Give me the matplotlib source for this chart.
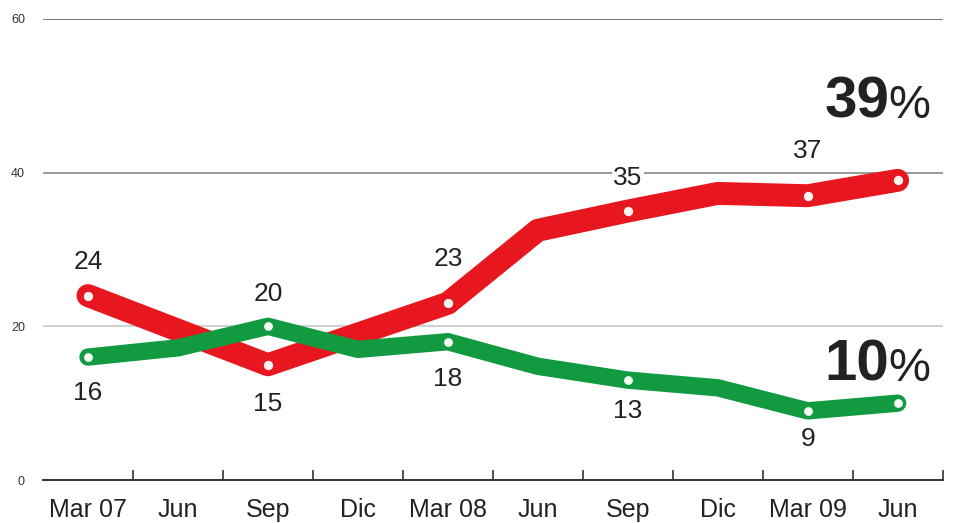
import matplotlib

matplotlib.use("Agg")

import matplotlib.pyplot as plt  # noqa: E402

# data
periods = ["Mar 07", "Jun", "Sep", "Dic", "Mar 08", "Jun", "Sep", "Dic", "Mar 09", "Jun"]
red_values = [24, 19.5, 15, 19, 23, 32.5, 35, 37.3, 37, 39]
green_values = [16, 17.2, 20, 17, 18, 14.8, 13, 12, 9, 10]
marked = [0, 2, 4, 6, 8, 9]
red_labels = {0: "24", 2: "15", 4: "23", 6: "35", 8: "37"}
green_labels = {0: "16", 2: "20", 4: "18", 6: "13", 8: "9"}
y_ticks = [0, 20, 40, 60]
end_labels = {"red": "39", "green": "10"}

RED = "#e8161e"
GREEN = "#119a40"
NARROW = ["Liberation Sans", "DejaVu Sans"]

fig = plt.figure(figsize=(9.56, 5.23), dpi=100)
ax = fig.add_axes([0.045, 0.0822, 0.941, 0.8815])
x = list(range(len(periods)))

# grid lines
grid_colors = {20: "#cfcfcf", 40: "#9a9a9a", 60: "#777777"}
for val, col in grid_colors.items():
    ax.axhline(val, color=col, linewidth=1.4, zorder=1)

ax.plot(x, red_values, color=RED, linewidth=16.5, solid_joinstyle="round",
        solid_capstyle="round", zorder=3)
ax.plot(x, green_values, color=GREEN, linewidth=12.5, solid_joinstyle="round",
        solid_capstyle="round", zorder=4)
ax.scatter([x[i] for i in marked], [red_values[i] for i in marked], s=45,
           color="#fff4f0", zorder=5, linewidths=0)
ax.scatter([x[i] for i in marked], [green_values[i] for i in marked], s=40,
           color="#f4fff6", zorder=6, linewidths=0)

# value labels: (dx, dy) in points
red_offsets = {0: (0, 24), 2: (0, -28), 4: (0, 32), 6: (0, 24), 8: (0, 32)}
green_offsets = {0: (0, -26), 2: (0, 23), 4: (0, -27), 6: (0, -22), 8: (0, -20)}
for i, txt in red_labels.items():
    bbox = dict(facecolor="white", edgecolor="none", pad=1) if i == 6 else None
    ax.annotate(txt, (x[i], red_values[i]), xytext=red_offsets[i],
                textcoords="offset points", ha="center", va="center",
                fontsize=19, family=NARROW, color="#222222", bbox=bbox, zorder=7)
for i, txt in green_labels.items():
    ax.annotate(txt, (x[i], green_values[i]), xytext=green_offsets[i],
                textcoords="offset points", ha="center", va="center",
                fontsize=19, family=NARROW, color="#222222", zorder=7)

# big end labels
last = len(periods) - 1
for val, num, dy in [(red_values[last], end_labels["red"], 45),
                     (green_values[last], end_labels["green"], 16)]:
    ax.annotate(num, (x[last], val), xytext=(-6, dy), textcoords="offset points",
                ha="right", va="baseline", fontsize=42, fontweight="bold",
                family="Liberation Sans", color="#222222", zorder=8)
    ax.annotate("%", (x[last], val), xytext=(-7, dy), textcoords="offset points",
                ha="left", va="baseline", fontsize=34,
                family="Liberation Sans", color="#222222", zorder=8)

ax.set_xlim(-0.5, len(periods) - 0.5)
ax.set_ylim(0, 60)
ax.set_xticks(x)
ax.set_xticklabels(periods, family=NARROW, fontsize=18, color="#222222")
ax.set_xticks([i + 0.5 for i in x], minor=True)
ax.tick_params(axis="x", which="major", length=0, pad=13)
ax.tick_params(axis="x", which="minor", direction="in", length=7, width=1.2,
               color="#333333")
ax.set_yticks(y_ticks)
ax.set_yticklabels([str(v) for v in y_ticks], family=NARROW, fontsize=9,
                   color="#333333")
ax.tick_params(axis="y", length=0, pad=13)

ax.spines[["top", "right", "left"]].set_visible(False)
ax.spines["bottom"].set_color("#333333")
ax.spines["bottom"].set_linewidth(1.4)
ax.spines["bottom"].set_zorder(2)

fig.savefig("out.png", dpi=100)
